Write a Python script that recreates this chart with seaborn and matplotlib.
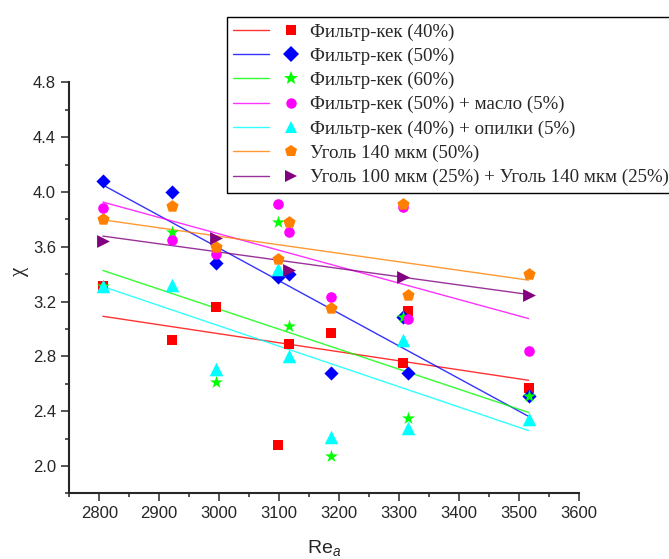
import numpy as np
import pandas as pd
import matplotlib
matplotlib.use('Agg')
import matplotlib.pyplot as plt
import seaborn as sns
from matplotlib.lines import Line2D
from matplotlib.legend_handler import HandlerTuple
from matplotlib.ticker import MultipleLocator, FormatStrFormatter
from matplotlib.font_manager import FontProperties

# ---- data ----
re_a = [2806, 2922, 2995, 3098, 3117, 3186, 3306, 3315, 3516]
fk40 = [3.31, 2.92, 3.16, 2.15, 2.89, 2.97, 2.75, 3.13, 2.57]
fk50 = [4.08, 4.00, 3.48, 3.38, 3.40, 2.68, 3.09, 2.68, 2.51]
fk60 = [3.31, 3.71, 2.61, 3.78, 3.02, 2.07, 3.09, 2.35, 2.51]
fk50_oil = [3.88, 3.65, 3.55, 3.91, 3.71, 3.23, 3.89, 3.07, 2.84]
fk40_saw = [3.31, 3.32, 2.71, 3.44, 2.80, 2.21, 2.92, 2.28, 2.34]
coal140 = [3.80, 3.90, 3.60, 3.51, 3.78, 3.15, 3.91, 3.25, 3.40]
re_mix = [2806, 2995, 3117, 3306, 3516]
coal_mix = [3.64, 3.66, 3.43, 3.38, 3.25]

labels = ["Фильтр-кек (40%)", "Фильтр-кек (50%)", "Фильтр-кек (60%)",
          "Фильтр-кек (50%) + масло (5%)", "Фильтр-кек (40%) + опилки (5%)",
          "Уголь 140 мкм (50%)", "Уголь 100 мкм (25%) + Уголь 140 мкм (25%)"]
xs = [re_a, re_a, re_a, re_a, re_a, re_a, re_mix]
ys = [fk40, fk50, fk60, fk50_oil, fk40_saw, coal140, coal_mix]
colors = ["#FF0000", "#0000FF", "#00FF00", "#FF00FF", "#00FFFF", "#FF8000", "#800080"]
markers = ["s", "D", "*", "o", "^", "p", ">"]
sizes = [58, 52, 95, 58, 95, 85, 85]
leg_ms = [7, 8, 10, 7.5, 9, 9, 9]

sns.set_style("ticks")
plt.rcParams['font.family'] = ['Liberation Sans', 'DejaVu Sans']
plt.rcParams['mathtext.fontset'] = 'custom'
plt.rcParams['mathtext.rm'] = 'Liberation Sans'
plt.rcParams['mathtext.it'] = 'Liberation Sans:italic'

fig = plt.figure(figsize=(6.69, 5.59), dpi=100)
W, H = 669, 559
ax = fig.add_axes([69.3 / W, 1 - 493.3 / H, (579 - 69.3) / W, (493.3 - 82.3) / H])

for x, y, c, m, s in zip(xs, ys, colors, markers, sizes):
    df = pd.DataFrame({"Re": x, "chi": y})
    sns.regplot(data=df, x="Re", y="chi", ax=ax, ci=None, scatter=False,
                line_kws=dict(color=c, lw=1.0, alpha=0.8, zorder=2))
for x, y, c, m, s in zip(xs, ys, colors, markers, sizes):
    df = pd.DataFrame({"Re": x, "chi": y})
    sns.scatterplot(data=df, x="Re", y="chi", ax=ax, color=c, marker=m, s=s,
                    linewidth=0, zorder=3)

ax.set_xlim(2750, 3600)
ax.set_ylim(1.8, 4.8)
ax.xaxis.set_major_locator(MultipleLocator(100))
ax.xaxis.set_minor_locator(MultipleLocator(50))
ax.yaxis.set_major_locator(MultipleLocator(0.4))
ax.yaxis.set_minor_locator(MultipleLocator(0.2))
ax.yaxis.set_major_formatter(FormatStrFormatter('%.1f'))
ax.tick_params(which='major', length=5.5, width=1.1, labelsize=12, direction='out', pad=4)
ax.tick_params(which='minor', length=3, width=1.1, direction='out')
ax.set_yticks([2.0, 2.4, 2.8, 3.2, 3.6, 4.0, 4.4, 4.8])
for sp in ['top', 'right']:
    ax.spines[sp].set_visible(False)
for sp in ['left', 'bottom']:
    ax.spines[sp].set_linewidth(1.5)

ax.set_xlabel("Re$_{a}$", fontsize=14, labelpad=12)
ax.set_ylabel("χ", fontsize=15, family=['Liberation Serif', 'DejaVu Serif'])
ax.yaxis.set_label_coords(-0.08, 0.54)

handles = []
for c, m, ms in zip(colors, markers, leg_ms):
    handles.append((Line2D([], [], color=c, lw=1.0, alpha=0.8),
                    Line2D([], [], color=c, marker=m, ls='none', markersize=ms,
                           markeredgewidth=0)))
fs = 13.6
leg = fig.legend(handles, labels, loc='upper left',
                 bbox_to_anchor=(227 / W, 1 - 17 / H), bbox_transform=fig.transFigure,
                 prop=FontProperties(family='Liberation Serif', size=fs),
                 handler_map={tuple: HandlerTuple(ndivide=None, pad=0.21)},
                 handlelength=4.0, handletextpad=0.05, labelspacing=0.37,
                 borderpad=0.33, borderaxespad=0, frameon=True, fancybox=False,
                 edgecolor='black', framealpha=1)
leg.get_frame().set_linewidth(1.0)

fig.savefig("out.png", dpi=100)
